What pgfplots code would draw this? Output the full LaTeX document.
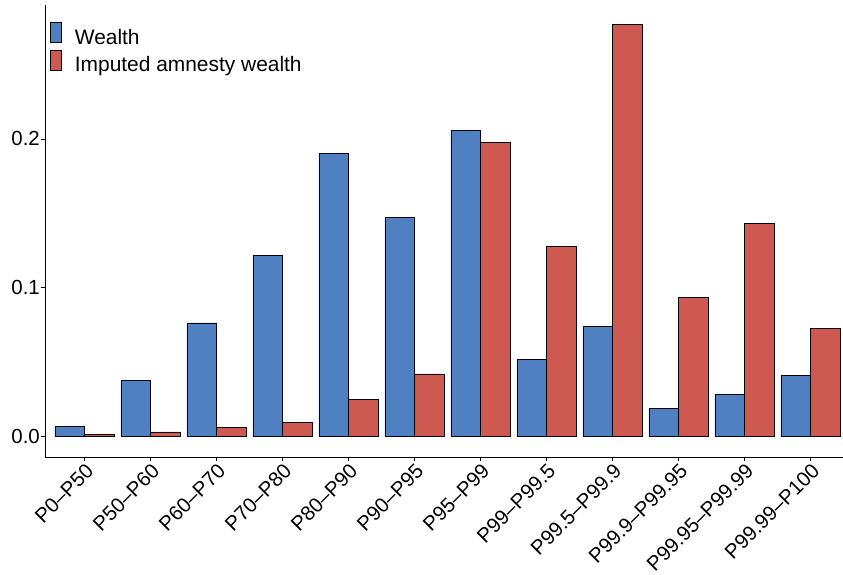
\documentclass[border=0pt]{standalone}
\usepackage{fontspec}
\setmainfont{Liberation Sans}
\usepackage{pgfplots}
\pgfplotsset{compat=1.18}
\definecolor{wblue}{HTML}{4F81C2}
\definecolor{ired}{HTML}{CD5950}
\begin{document}
\begin{tikzpicture}
\begin{axis}[
  name=ax,
  scale only axis,
  width=798bp, height=452bp,
  xmin=-0.6, xmax=11.49,
  ymin=-0.01414, ymax=0.2902,
  axis x line*=bottom, axis y line*=left,
  axis line style={line width=0.6bp, -},
  tick style={line width=0.6bp, black},
  major tick length=4bp,
  tick align=outside,
  xtick={0,...,11},
  xticklabels={P0–P50,P50–P60,P60–P70,P70–P80,P80–P90,P90–P95,P95–P99,P99–P99.5,P99.5–P99.9,P99.9–P99.95,P99.95–P99.99,P99.99–P100},
  xticklabel style={rotate=45, anchor=north east, inner sep=1bp, font=\fontsize{20.5}{24}\selectfont},
  ytick={0,0.1,0.2},
  yticklabel style={font=\fontsize{20.5}{24}\selectfont, inner sep=1bp},
  /pgf/number format/assume math mode=true,
  yticklabel={\pgfmathprintnumber[fixed,fixed zerofill,precision=1]{\tick}},
  ybar=0pt, bar width=0.45,
  every axis plot/.append style={draw=black, line width=0.7bp},
  legend cell align=left,
  legend image code/.code={\draw[#1] (0bp,-3bp) rectangle (11bp,17bp); \path (24bp,0bp);},
  legend style={at={(0,1)}, anchor=north west, xshift=5bp, yshift=-17bp,
    draw=none, fill=none, inner sep=0pt, row sep=0pt, column sep=0pt,
    font=\fontsize{21}{24}\selectfont,
    nodes={inner sep=0pt, text height=15bp, text depth=5bp}},
]
\addplot[fill=wblue, bar shift=-0.225] coordinates {
 (0,0.0067) (1,0.0377) (2,0.0761) (3,0.1217) (4,0.1901) (5,0.1473)
 (6,0.2059) (7,0.0514) (8,0.0736) (9,0.0187) (10,0.0281) (11,0.0409)};
\addplot[fill=ired, bar shift=0.225] coordinates {
 (0,0.0013) (1,0.0027) (2,0.0060) (3,0.0094) (4,0.0249) (5,0.0418)
 (6,0.1975) (7,0.1275) (8,0.2770) (9,0.0934) (10,0.1434) (11,0.0725)};
\legend{Wealth,Imputed amnesty wealth}
\end{axis}
\pgfresetboundingbox
\path ([xshift=-45bp,yshift=-118bp]ax.south west) rectangle ([yshift=5bp]ax.north east);
\end{tikzpicture}
\end{document}
